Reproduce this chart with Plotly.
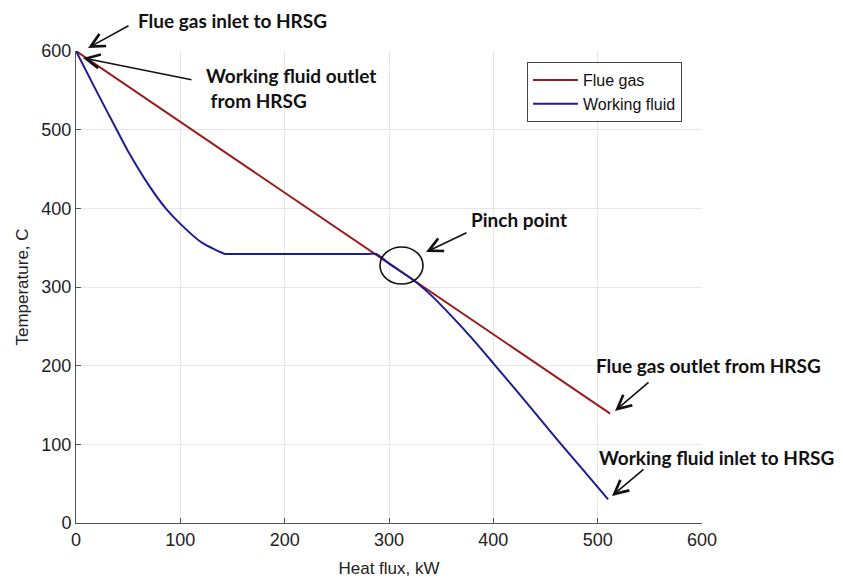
import plotly.graph_objects as go

# ---- data ----
flue_x = [0, 512]
flue_y = [600, 139]

wf_x = [0, 20, 39, 51, 71, 86, 101, 121, 143, 150, 280, 288, 300, 310, 320, 327,
        340, 360, 380, 400, 430, 460, 485, 510]
wf_y = [600, 548, 500, 470, 427, 400, 379, 356, 342, 342, 342, 342, 330, 321, 312, 305,
        290, 263, 234, 203, 156, 108, 69, 30]

x_ticks = [0, 100, 200, 300, 400, 500, 600]
y_ticks = [0, 100, 200, 300, 400, 500, 600]

# ---- layout geometry (page pixels; page body has an 8px margin) ----
OFF = 8
W, H = 843 - OFF, 578 - OFF
L, R, T, B = 76, 702, 51, 523   # plot area in page pixels


def pxx(x):
    return (x - L) / (R - L)


def pxy(y):
    return (B - y) / (B - T)


fig = go.Figure()
fig.add_trace(go.Scatter(x=flue_x, y=flue_y, mode="lines", name="Flue gas",
                         line=dict(color="#9a1c1c", width=2)))
fig.add_trace(go.Scatter(x=wf_x, y=wf_y, mode="lines", name="Working fluid",
                         line=dict(color="#1d1d92", width=2, shape="spline", smoothing=0.5)))

tick_font = dict(family="Liberation Sans, Arial", size=18, color="#222")
axis_common = dict(showgrid=True, gridcolor="#e6e6e6", gridwidth=1,
                   showline=True, linecolor="#555", linewidth=1,
                   ticks="inside", ticklen=5, tickcolor="#555",
                   zeroline=False, tickfont=tick_font, mirror=False,
                   automargin=False)

fig.update_layout(
    width=W, height=H,
    margin=dict(l=L - OFF, r=(W + OFF) - R, t=T - OFF, b=(H + OFF) - B),
    paper_bgcolor="white", plot_bgcolor="white",
    xaxis=dict(range=[0, 600], tickvals=x_ticks, **axis_common,
               title=dict(text="Heat flux, kW", standoff=14,
                          font=dict(family="Liberation Sans, Arial", size=17, color="#222"))),
    yaxis=dict(range=[0, 600], tickvals=y_ticks, **axis_common,
               title=dict(text="Temperature, C", standoff=8,
                          font=dict(family="Liberation Sans, Arial", size=17, color="#222"))),
    legend=dict(x=pxx(527), y=pxy(62), xanchor="left", yanchor="top",
                bordercolor="#444", borderwidth=1, bgcolor="white",
                font=dict(family="Liberation Sans, Arial", size=16, color="#111"),
                itemwidth=45, tracegroupgap=0),
    showlegend=True,
)

ann_font = dict(family="Lato, Open Sans", size=19, color="#111", weight="bold")

texts = [
    ("Flue gas inlet to HRSG", 136, 20),
    ("Working fluid outlet<br> from HRSG", 204, 88),
    ("Pinch point", 469, 219),
    ("Flue gas outlet from HRSG", 594, 365),
    ("Working fluid inlet to HRSG", 597, 457),
]
for txt, x, y in texts:
    fig.add_annotation(text=txt, xref="paper", yref="paper", x=pxx(x), y=pxy(y),
                       xanchor="left", yanchor="middle", align="left",
                       showarrow=False, font=ann_font)

arrows = [  # (tail_x, tail_y, tip_x, tip_y) in page pixels
    (130, 25, 88, 48),
    (193, 80, 83, 58),
    (468, 232, 426, 252),
    (650, 381, 615, 411),
    (645, 468, 612, 496),
]
for tx, ty, hx, hy in arrows:
    fig.add_annotation(text="", xref="paper", yref="paper", x=pxx(hx), y=pxy(hy),
                       ax=tx - hx, ay=ty - hy, showarrow=True, arrowhead=5,
                       arrowsize=1.7, arrowwidth=1.6, arrowcolor="#111", standoff=0)

# pinch-point circle
fig.add_shape(type="circle", xref="paper", yref="paper",
              x0=pxx(380), x1=pxx(423), y0=pxy(284), y1=pxy(247),
              line=dict(color="#111", width=1.6))

fig.write_html("out.html")
